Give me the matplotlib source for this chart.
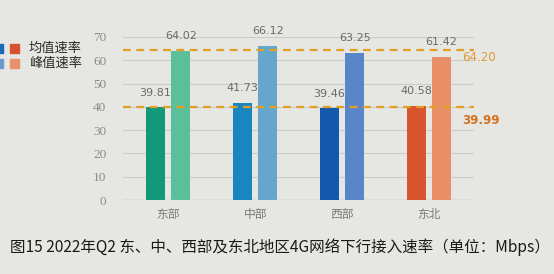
import matplotlib
matplotlib.use("Agg")
import matplotlib.pyplot as plt
from matplotlib.patches import Rectangle

plt.rcParams['font.family'] = ['Noto Sans CJK SC', 'DejaVu Sans']

# data
regions = ['东部', '中部', '西部', '东北']
avg_speed = [39.81, 41.73, 39.46, 40.58]
peak_speed = [64.02, 66.12, 63.25, 61.42]
avg_colors = ['#12997a', '#1a86bf', '#1459ad', '#d9552e']
peak_colors = ['#5cbf9c', '#66a6cc', '#5986c8', '#e98f68']
ref_values = [39.99, 64.20]
ref_labels = ['39.99', '64.20']
yticks = [0, 10, 20, 30, 40, 50, 60, 70]
caption = '图15 2022年Q2 东、中、西部及东北地区4G网络下行接入速率（单位：Mbps）'

bg = '#e6e6e2'
fig = plt.figure(figsize=(5.54, 2.74), dpi=100, facecolor=bg)
ax = fig.add_axes([0.222, 0.27, 0.634, 0.595], facecolor=bg)

x = list(range(len(regions)))
w = 0.22
off = 0.145
avg_x = [i - off for i in x]
peak_x = [i + off for i in x]
ax.bar(avg_x, avg_speed, width=w, color=avg_colors, zorder=2)
ax.bar(peak_x, peak_speed, width=w, color=peak_colors, zorder=2)

for xs, vals in ((avg_x, avg_speed), (peak_x, peak_speed)):
    for xi, v in zip(xs, vals):
        ax.annotate(f'{v:.2f}', (xi, v), xytext=(0, 10.5), textcoords='offset points',
                    ha='center', va='center', fontsize=8, color='#6a6a6a',
                    family='DejaVu Sans', annotation_clip=False)

# reference lines
ax.axhline(ref_values[0], color='#e3a020', lw=1.6, ls=(0, (3.5, 2.5)), zorder=3, clip_on=False)
ax.axhline(ref_values[1], color='#e3a020', lw=1.6, ls=(0, (3.5, 2.5)), zorder=3, clip_on=False)
ax.annotate(ref_labels[0], (0.966, ref_values[0]), xycoords=('axes fraction', 'data'),
            xytext=(0, -9.5), textcoords='offset points', ha='left', va='center',
            fontsize=8.5, fontweight='bold', color='#d8701a', family='DejaVu Sans',
            annotation_clip=False)
ax.annotate(ref_labels[1], (0.966, ref_values[1]), xycoords=('axes fraction', 'data'),
            xytext=(0, -5), textcoords='offset points', ha='left', va='center',
            fontsize=8.5, color='#e29a3c', family='DejaVu Sans', annotation_clip=False)

ax.set_ylim(0, 70)
ax.set_xlim(-0.52, 3.52)
ax.set_yticks(yticks)
ax.set_yticklabels([str(t) for t in yticks], family='Liberation Serif', fontsize=9.5, color='#8a8a8a')
ax.set_xticks(x)
ax.set_xticklabels(regions, fontsize=8.5, color='#7a7a7a')
ax.tick_params(axis='y', length=0, pad=12)
ax.tick_params(axis='x', length=0, pad=6)
ax.grid(axis='y', color='#cbcbc8', lw=0.8, zorder=0)
for s in ax.spines.values():
    s.set_visible(False)
ax.axhline(0, color='#bdbdba', lw=1, zorder=1)

# legend swatches (partly cut off at the left edge)
legend_rows = ['均值速率', '峰值速率']
legend_blue = ['#1a6ab8', '#6a9ad0']
legend_red = ['#d85030', '#e8906a']
for i, (lab, cb, cr) in enumerate(zip(legend_rows, legend_blue, legend_red)):
    yc = 1 - (48 + 15 * i) / 274
    for x0, c in ((-6, cb), (10, cr)):
        fig.patches.append(Rectangle((x0 / 554, yc - 4.5 / 274), 9 / 554, 9 / 274,
                                     transform=fig.transFigure, color=c))
    fig.text(29 / 554, yc, lab, fontsize=9.5, color='#2a2a2a', va='center', ha='left')

fig.text(10 / 554, 1 - 247 / 274, caption, fontsize=11.2, color='#1a1a1a', va='center', ha='left')

fig.savefig('out.png', dpi=100, facecolor=bg)
